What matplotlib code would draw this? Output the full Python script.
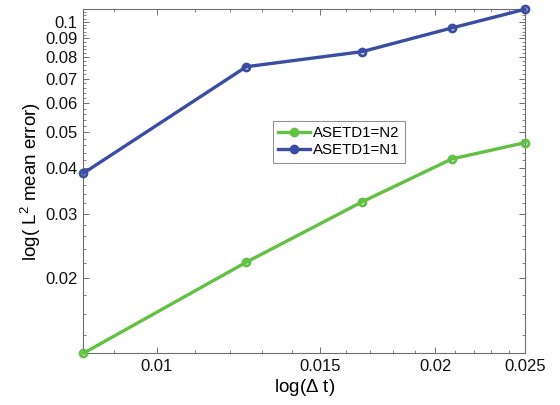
import matplotlib
matplotlib.use("Agg")
import matplotlib.pyplot as plt
from matplotlib.ticker import FixedLocator, NullFormatter

plt.rcParams['font.family'] = ['Liberation Sans', 'DejaVu Sans']
plt.rcParams['mathtext.fontset'] = 'custom'
plt.rcParams['mathtext.rm'] = 'Liberation Sans'
plt.rcParams['mathtext.it'] = 'Liberation Sans'

# Data
dt = [1/120, 1/80, 1/60, 1/48, 1/40]
err_n2 = [0.01249, 0.02212, 0.03228, 0.04226, 0.04682]
err_n1 = [0.03864, 0.07540, 0.08285, 0.09612, 0.1081]
labels = ['ASETD1=N2', 'ASETD1=N1']
xticks = [0.01, 0.015, 0.02, 0.025]
xtick_labels = ['0.01', '0.015', '0.02', '0.025']
yticks = [0.02, 0.03, 0.04, 0.05, 0.06, 0.07, 0.08, 0.09, 0.1]
ytick_labels = ['0.02', '0.03', '0.04', '0.05', '0.06', '0.07', '0.08', '0.09', '0.1']

green = '#62C043'
blue = '#3A4DA3'
spine = '#6E6E6E'

fig = plt.figure(figsize=(5.6, 4.05), dpi=100)
ax = fig.add_axes([0.1488, 0.1277, 0.7887, 0.8494])

ax.plot(dt, err_n2, '-o', color=green, lw=2.4, ms=5, mfc='none', mew=2.0,
        label=labels[0], clip_on=False, zorder=3)
ax.plot(dt, err_n1, '-o', color=blue, lw=2.4, ms=5, mfc='none', mew=2.0,
        label=labels[1], clip_on=False, zorder=3)

ax.set_xscale('log')
ax.set_yscale('log')
ax.set_xlim(min(dt), max(dt))
ax.set_ylim(min(err_n2), max(err_n1))

ax.xaxis.set_major_locator(FixedLocator(xticks))
ax.set_xticklabels(xtick_labels)
ax.yaxis.set_major_locator(FixedLocator(yticks))
ax.set_yticklabels(ytick_labels)

xminor = [i / 1000 for i in range(9, 26) if i not in (10, 15, 20, 25)]
yminor = [i / 1000 for i in range(12, 110, 2) if i not in (20, 30, 40, 50, 60, 70, 80, 90, 100)]
ax.xaxis.set_minor_locator(FixedLocator(xminor))
ax.yaxis.set_minor_locator(FixedLocator(yminor))
ax.xaxis.set_minor_formatter(NullFormatter())
ax.yaxis.set_minor_formatter(NullFormatter())

ax.tick_params(which='both', direction='in', top=True, right=True,
               color=spine, labelsize=12, labelcolor='#111111')
ax.tick_params(which='major', length=4, width=0.7, pad=4)
ax.tick_params(which='minor', length=2.2, width=0.6)
for s in ax.spines.values():
    s.set_color(spine)
    s.set_linewidth(0.8)

ax.set_xlabel(r'log($\Delta$ t)', fontsize=13.5, labelpad=2)
ax.set_ylabel(r'log( L$^2$ mean error)', fontsize=13.5, labelpad=2)

h, l = ax.get_legend_handles_labels()
leg = ax.legend(h, l, loc='upper left', bbox_to_anchor=(0.4875, 0.7012),
                bbox_transform=fig.transFigure, borderaxespad=0,
                fontsize=10.8, frameon=True, fancybox=False, handlelength=2.1,
                handletextpad=0.2, borderpad=0.35, labelspacing=0.2)
leg.get_frame().set_edgecolor('#777777')
leg.get_frame().set_linewidth(0.8)
for lh in leg.get_lines():
    lh.set_markerfacecolor(lh.get_color())

fig.savefig('out.png', dpi=100)
